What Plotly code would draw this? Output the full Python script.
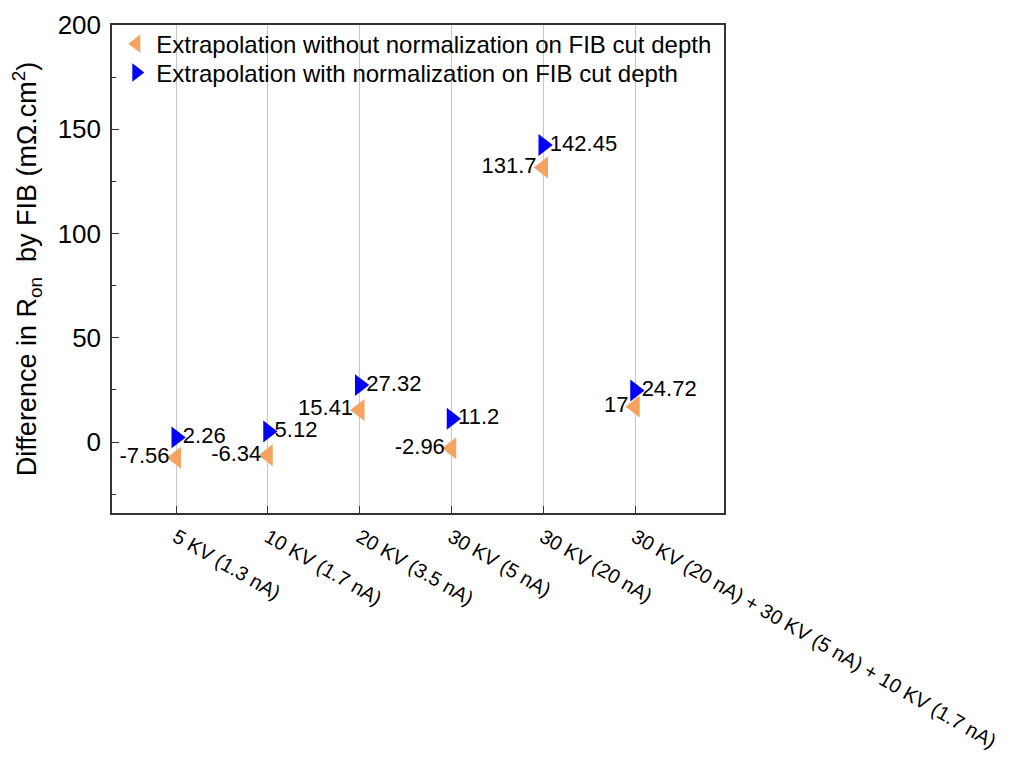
import plotly.graph_objects as go

categories = ["5 KV (1.3 nA)", "10 KV (1.7 nA)", "20 KV (3.5 nA)", "30 KV (5 nA)",
              "30 KV (20 nA)", "30 KV (20 nA) + 30 KV (5 nA) + 10 KV (1.7 nA)"]
without_norm = [-7.56, -6.34, 15.41, -2.96, 131.7, 17]
with_norm = [2.26, 5.12, 27.32, 11.2, 142.45, 24.72]
without_labels = ["-7.56", "-6.34", "15.41", "-2.96", "131.7", "17"]
with_labels = ["2.26", "5.12", "27.32", "11.2", "142.45", "24.72"]

xpos = list(range(len(categories)))
FONT = "Liberation Sans, Arial, sans-serif"
ORANGE = "#F4A460"
BLUE = "#0000FF"

fig = go.Figure()
fig.add_trace(go.Scatter(
    x=xpos, y=without_norm, mode="markers",
    name="Extrapolation without normalization on FIB cut depth",
    marker=dict(symbol="triangle-left", size=19, color=ORANGE),
    legend="legend",
))
fig.add_trace(go.Scatter(
    x=xpos, y=with_norm, mode="markers",
    name="Extrapolation with normalization on FIB cut depth",
    marker=dict(symbol="triangle-right", size=19, color=BLUE),
    legend="legend2",
))
# value labels (invisible markers set the text offset)
fig.add_trace(go.Scatter(
    x=xpos, y=without_norm, mode="markers+text", showlegend=False, hoverinfo="skip",
    text=without_labels, textposition="middle left",
    marker=dict(size=9, color="rgba(0,0,0,0)"),
    textfont=dict(size=22, color="black", family=FONT),
))
fig.add_trace(go.Scatter(
    x=xpos, y=with_norm, mode="markers+text", showlegend=False, hoverinfo="skip",
    text=with_labels, textposition="middle right",
    marker=dict(size=9, color="rgba(0,0,0,0)"),
    textfont=dict(size=22, color="black", family=FONT),
))

leg_common = dict(x=0.007, xanchor="left", yanchor="middle",
                  bgcolor="rgba(0,0,0,0)", font=dict(size=24, family=FONT),
                  itemsizing="trace")
fig.update_layout(
    width=1014, height=764,
    margin=dict(l=104, r=298, t=17, b=259),
    paper_bgcolor="white", plot_bgcolor="white",
    font=dict(family=FONT, size=22, color="black"),
    showlegend=True,
    legend=dict(y=0.961, **leg_common),
    legend2=dict(y=0.902, **leg_common),
)
fig.update_xaxes(
    range=[-0.7, 5.97], tickmode="array", tickvals=xpos, ticktext=categories,
    tickangle=30, ticks="inside", ticklen=7, tickcolor="#333",
    showline=True, linecolor="#333", linewidth=1.5, mirror=True,
    showgrid=True, gridcolor="#C8C8C8", gridwidth=1, zeroline=False,
    tickfont=dict(size=20), automargin=False, ticklabelstandoff=3,
)
fig.update_yaxes(
    range=[-34, 200], tick0=0, dtick=50, ticks="inside", ticklen=7, tickcolor="#333",
    showline=True, linecolor="#333", linewidth=1.5, mirror=True,
    showgrid=False, zeroline=False, tickfont=dict(size=26), ticklabelstandoff=4,
    minor=dict(dtick=25, tick0=0, ticks="inside", ticklen=4, tickcolor="#333", showgrid=False),
    title=dict(text="Difference in R<sub>on</sub>  by FIB (mΩ.cm<sup>2</sup>)",
               font=dict(size=27), standoff=20),
    automargin=False,
)
fig.write_html("out.html")
